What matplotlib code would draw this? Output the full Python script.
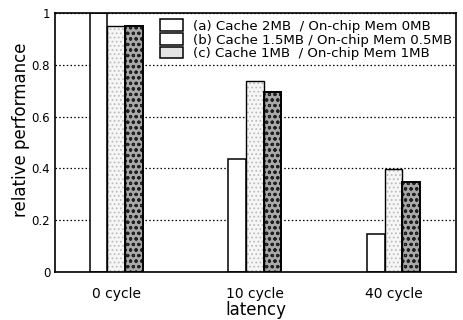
import matplotlib
matplotlib.use("Agg")
import matplotlib.pyplot as plt
import numpy as np
from matplotlib.patches import Rectangle

plt.rcParams['font.family'] = ['DejaVu Sans']
plt.rcParams['hatch.linewidth'] = 0.8

categories = ["0 cycle", "10 cycle", "40 cycle"]
series_labels = ["(a) Cache 2MB  / On-chip Mem 0MB",
                 "(b) Cache 1.5MB / On-chip Mem 0.5MB",
                 "(c) Cache 1MB  / On-chip Mem 1MB"]
vals_a = [1.0, 0.435, 0.145]
vals_b = [0.952, 0.737, 0.398]
vals_c = [0.952, 0.695, 0.347]
yticks = [0, 0.2, 0.4, 0.6, 0.8, 1]
ytick_labels = ["0", "0.2", "0.4", "0.6", "0.8", "1"]

fig = plt.figure(figsize=(4.63, 3.2), dpi=100)
ax = fig.add_axes([0.119, 0.15, 0.866, 0.809])

x = np.arange(len(categories))
w = 0.127

# series a
ax.bar(x - w, vals_a, w, facecolor='white', edgecolor='black', linewidth=1.1, zorder=3)
# series b: light dotted
ax.bar(x, vals_b, w, facecolor='#f6f6f6', edgecolor='#bdbdbd', hatch='....', linewidth=0, zorder=3)
ax.bar(x, vals_b, w, facecolor='none', edgecolor='black', linewidth=1.0, zorder=4)
# series c: darker dotted
ax.bar(x + w, vals_c, w, facecolor='#a8a8a8', edgecolor='#202020', hatch='ooo', linewidth=0, zorder=3)
ax.bar(x + w, vals_c, w, facecolor='none', edgecolor='black', linewidth=1.4, zorder=4)

# legend proxies
pa = Rectangle((0, 0), 1, 1, facecolor='white', edgecolor='black', linewidth=1.1)
pb = Rectangle((0, 0), 1, 1, facecolor='white', edgecolor='black', linewidth=1.1)
pc = Rectangle((0, 0), 1, 1, facecolor='#e4e4e4', edgecolor='black', linewidth=1.1)
fig.legend([pa, pb, pc], series_labels, loc='upper left',
           bbox_to_anchor=(0.331, 0.96), bbox_transform=fig.transFigure,
           frameon=False, fontsize=9.6, borderpad=0, handlelength=1.7,
           handleheight=1.0, handletextpad=0.8, labelspacing=0.0)

ax.set_xlim(-0.44, 2.45)
ax.set_ylim(0, 1)
ax.set_yticks(yticks)
ax.set_yticklabels(ytick_labels, fontsize=8.5)
ax.set_xticks(x)
ax.set_xticklabels(categories, fontsize=10)
ax.tick_params(axis='y', length=0, pad=3.5)
ax.tick_params(axis='x', length=0, pad=11)
ax.yaxis.grid(True, linestyle=(0, (1.2, 1.8)), color='black', linewidth=0.9, zorder=5)
ax.set_axisbelow(False)
for s in ax.spines.values():
    s.set_linewidth(1.2)
    s.set_zorder(6)

ax.set_xlabel("latency", fontsize=12, labelpad=0)
ax.set_ylabel("relative performance", fontsize=12)
ax.yaxis.set_label_coords(-0.062, 0.55)

fig.savefig("out.png", dpi=100)
